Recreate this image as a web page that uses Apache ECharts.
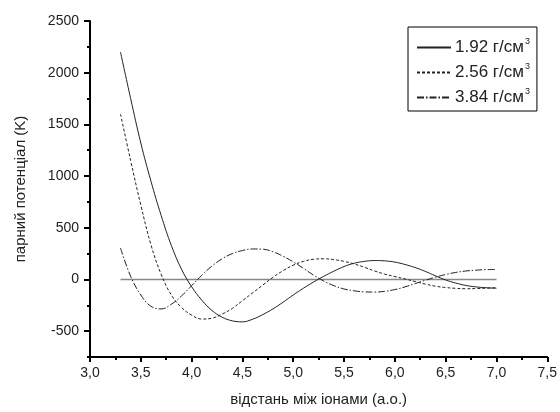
<!DOCTYPE html>
<html>
<head>
<meta charset="utf-8">
<script src="https://cdn.jsdelivr.net/npm/echarts@6/dist/echarts.min.js"></script>
<style>html,body{margin:0;padding:0;background:#fff;}#c{width:560px;height:412px;}</style>
</head>
<body>
<div id="c"></div>
<script>
const distances = [3.3,3.4,3.5,3.6,3.7,3.8,3.9,4.0,4.1,4.2,4.3,4.4,4.5,4.6,4.7,4.8,4.9,5.0,5.1,5.2,5.3,5.4,5.5,5.6,5.7,5.8,5.9,6.0,6.1,6.2,6.3,6.4,6.5,6.6,6.7,6.8,6.9,7.0];
const pot192 = [2200,1750,1320,950,620,330,100,-70,-200,-300,-365,-400,-410,-385,-340,-285,-220,-150,-85,-25,30,80,125,157,175,183,180,168,145,115,78,35,-5,-35,-58,-72,-80,-85];
const pot256 = [1600,1150,720,335,50,-150,-270,-345,-383,-375,-335,-280,-205,-130,-55,20,85,138,175,195,200,192,175,150,118,82,52,28,5,-20,-45,-65,-78,-86,-90,-88,-84,-80];
const pot384 = [305,30,-150,-260,-285,-240,-160,-60,40,130,200,250,280,295,293,268,225,170,108,42,-15,-60,-92,-110,-120,-122,-115,-98,-72,-40,-8,22,48,68,82,90,95,96];
const zeroLine = [[3.3,0],[7.0,0]];
const seriesNames = ['1.92 г/см', '2.56 г/см', '3.84 г/см'];
const yMajorTicks = [-500,0,500,1000,1500,2000,2500];
const xAxisTitle = 'відстань між іонами (а.о.)';
const yAxisTitle = 'парний потенціал (K)';

const FONT = 'Liberation Sans, Arial, sans-serif';
const pair = (arr) => distances.map((x, i) => [x, arr[i]]);

const chart = echarts.init(document.getElementById('c'));
chart.setOption({
  animation: false,
  backgroundColor: '#fff',
  textStyle: { fontFamily: FONT },
  grid: { left: 90, right: 9, top: 21, bottom: 53, containLabel: false },
  legend: {
    orient: 'vertical',
    left: 408, top: 27,
    padding: [10, 7, 5, 8],
    itemGap: 6,
    itemWidth: 34,
    itemHeight: 14,
    borderColor: '#000',
    borderWidth: 1,
    itemStyle: { opacity: 0 },
    data: seriesNames,
    formatter: (n) => n + '{s|3}',
    textStyle: {
      fontFamily: FONT, fontSize: 17, color: '#222', padding: [0,0,0,-1],
      rich: { s: { fontSize: 9, verticalAlign: 'top', padding: [0,0,12,1], fontFamily: FONT, color: '#222' } }
    }
  },
  xAxis: {
    type: 'value', min: 3, max: 7.5, interval: 0.5,
    axisLine: { show: true, onZero: false, lineStyle: { color: '#000', width: 2 } },
    axisTick: { show: true, length: 5, lineStyle: { color: '#000', width: 2 } },
    minorTick: { show: true, splitNumber: 2, length: 3, lineStyle: { color: '#000', width: 2 } },
    splitLine: { show: false },
    axisLabel: { fontSize: 14, color: '#222', margin: 9, fontFamily: FONT,
      formatter: (v) => v.toFixed(1).replace('.', ',') },
    name: xAxisTitle, nameLocation: 'middle', nameGap: 35,
    nameTextStyle: { fontSize: 15, color: '#222', fontFamily: FONT }
  },
  yAxis: [{
    type: 'value', min: -750, max: 2500, interval: 250,
    axisLine: { show: true, onZero: false, lineStyle: { color: '#000', width: 2 } },
    axisTick: { show: true, length: 3, lineStyle: { color: '#000', width: 2 } },
    splitLine: { show: false },
    axisLabel: { fontSize: 14, color: '#222', margin: 11, fontFamily: FONT,
      formatter: (v) => (v % 500 === 0 ? String(v) : '') },
    name: yAxisTitle, nameLocation: 'middle', nameGap: 62,
    nameTextStyle: { fontSize: 15, color: '#222', fontFamily: FONT }
  }, {
    type: 'value', min: -750, max: 2500, position: 'left', offset: 0,
    axisLine: { show: false, onZero: false },
    axisTick: { show: true, length: 6, customValues: yMajorTicks, lineStyle: { color: '#000', width: 2 } },
    axisLabel: { show: false },
    splitLine: { show: false }
  }],
  series: [
    { name: 'zero', type: 'line', data: zeroLine, symbol: 'none', silent: true,
      lineStyle: { color: '#888', width: 1.5 }, z: 1 },
    { name: seriesNames[0], type: 'line', data: pair(pot192), smooth: 0.4, symbol: 'none',
      itemStyle: { color: '#222' },
      lineStyle: { color: '#222', width: 1, type: 'solid' } },
    { name: seriesNames[1], type: 'line', data: pair(pot256), smooth: 0.4, symbol: 'none',
      itemStyle: { color: '#222' },
      lineStyle: { color: '#222', width: 1, type: [3, 2] } },
    { name: seriesNames[2], type: 'line', data: pair(pot384), smooth: 0.4, symbol: 'none',
      itemStyle: { color: '#222' },
      lineStyle: { color: '#222', width: 1, type: [7, 2, 1.5, 2] } }
  ]
});
</script>
</body>
</html>
